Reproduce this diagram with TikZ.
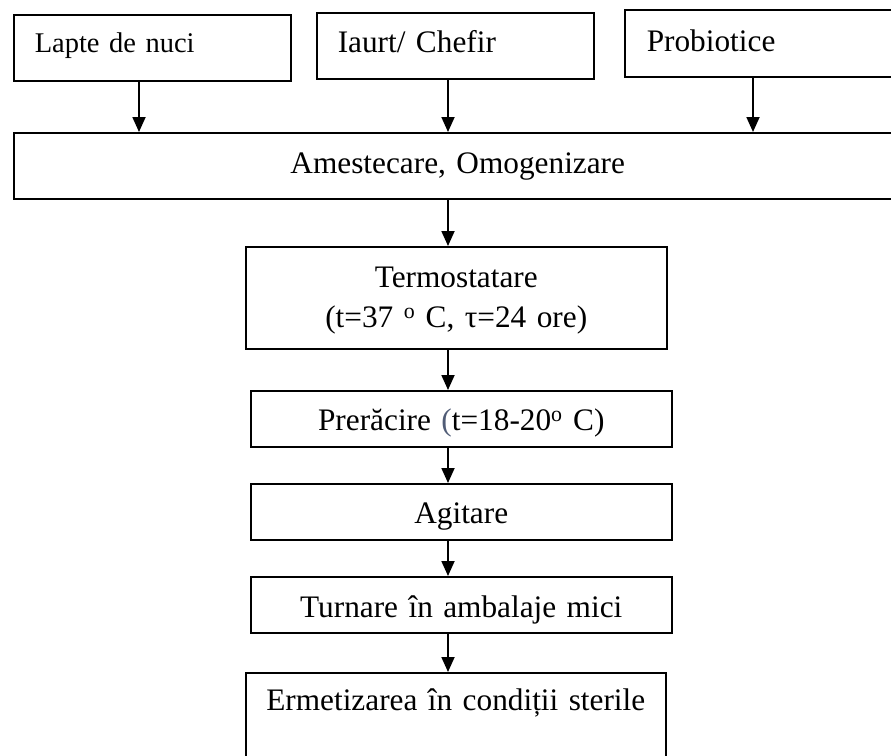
\documentclass[tikz,border=0pt]{standalone}
\usepackage{fontspec}
\setmainfont{Liberation Serif}
\usetikzlibrary{arrows.meta}
\definecolor{parencol}{RGB}{80,92,118}
\begin{document}
\begin{tikzpicture}[x=1pt,y=-1pt,
  box/.style={draw=black, line width=1.5pt, rectangle, inner ysep=0pt,
    font=\fontsize{31.3}{40}\selectfont, anchor=north west},
  leftbox/.style={box, align=left, inner xsep=21pt},
  midbox/.style={box, align=center, inner xsep=0pt},
  arr/.style={line width=1.8pt, -{Triangle[length=15pt,width=13pt]}}]
\useasboundingbox (0,0) rectangle (891,755);
\clip (0,0) rectangle (891,755);

% ingredient boxes
\node[leftbox, font=\fontsize{28.5}{36}\selectfont, text width=235pt, text height=38pt, text depth=28pt] (lapte) at (13,14) {Lapte de nuci};
\node[leftbox, text width=235pt, text height=40pt, text depth=26pt] (iaurt) at (316,12) {Iaurt/ Chefir};
\node[leftbox, inner xsep=22pt, text width=233pt, text height=42pt, text depth=25pt] (prob) at (624,9) {Probiotice};

% mixing step
\node[midbox, text width=888pt, text height=41pt, text depth=25pt] (mix) at (13,132) {Amestecare, Omogenizare};

% process chain
\node[midbox, text width=421pt, text height=41pt, text depth=61pt] (termo) at (245,246)
  {Termostatare\\(t=37 \textsuperscript{o} C, τ=24 ore)};
\node[midbox, text width=421pt, text height=40pt, text depth=16pt] (prerac) at (250,390)
  {Prerăcire {\color{parencol}(}t=18-20\textsuperscript{o} C)};
\node[midbox, text width=421pt, text height=40pt, text depth=16pt] (agit) at (250,483) {Agitare};
\node[midbox, text width=421pt, text height=41pt, text depth=15pt] (turn) at (250,576) {Turnare în ambalaje mici};
\node[midbox, text width=420pt, text height=38pt, text depth=80pt] (erm) at (245,672) {Ermetizarea în condiții sterile};

% arrow columns
\coordinate (c1) at (139,0);
\coordinate (c2) at (448,0);
\coordinate (c3) at (753,0);
\coordinate (cm) at (448,0);

\draw[arr] (lapte.south -| c1) -- (mix.north -| c1);
\draw[arr] (iaurt.south -| c2) -- (mix.north -| c2);
\draw[arr] (prob.south -| c3) -- (mix.north -| c3);
\draw[arr] (mix.south -| cm) -- (termo.north -| cm);
\draw[arr] (termo.south -| cm) -- (prerac.north -| cm);
\draw[arr] (prerac.south -| cm) -- (agit.north -| cm);
\draw[arr] (agit.south -| cm) -- (turn.north -| cm);
\draw[arr] (turn.south -| cm) -- (erm.north -| cm);
\end{tikzpicture}
\end{document}
